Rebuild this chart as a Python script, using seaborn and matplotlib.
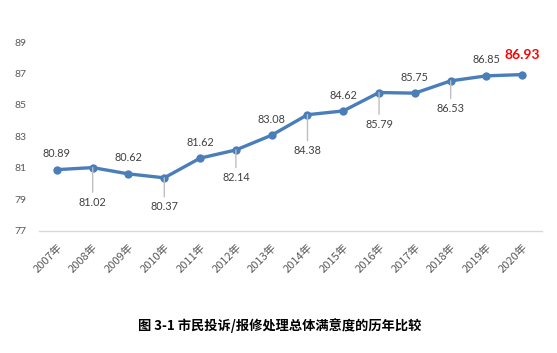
import pandas as pd
import numpy as np
import matplotlib.pyplot as plt
import seaborn as sns

# 数据
years = ['2007年', '2008年', '2009年', '2010年', '2011年', '2012年', '2013年',
         '2014年', '2015年', '2016年', '2017年', '2018年', '2019年', '2020年']
scores = [80.89, 81.02, 80.62, 80.37, 81.62, 82.14, 83.08,
          84.38, 84.62, 85.79, 85.75, 86.53, 86.85, 86.93]
# 标签位置: 'up' 在上方, 'down' 在下方(带引线)
label_pos = ['up', 'down', 'up', 'down', 'up', 'down', 'up',
             'down', 'up', 'down', 'up', 'down', 'up', 'up']
y_ticks = [77, 79, 81, 83, 85, 87, 89]
title = '图 3-1 市民投诉/报修处理总体满意度的历年比较'

df = pd.DataFrame({'year': years, 'score': scores})

sns.set_style('white')
plt.rcParams['font.family'] = ['Lato', 'Noto Sans CJK SC', 'DejaVu Sans']

fig = plt.figure(figsize=(5.57, 3.53), dpi=100)
ax = fig.add_axes([0.07, 0.346, 0.903, 0.535])

sns.lineplot(data=df, x='year', y='score', ax=ax, color='#4a7ebb', linewidth=2.4,
             marker='o', markersize=6, markeredgewidth=0, sort=False)

ax.set_ylim(77, 89)
ax.set_xlim(-0.5, len(years) - 0.45)
ax.set_yticks(y_ticks)
ax.set_xlabel('')
ax.set_ylabel('')
for s in ['top', 'right', 'left']:
    ax.spines[s].set_visible(False)
ax.spines['bottom'].set_color('#d9d9d9')
ax.spines['bottom'].set_linewidth(1)
ax.tick_params(axis='y', length=0, pad=9, labelsize=7.5, labelcolor='#595959')
ax.tick_params(axis='x', length=0, pad=8, labelsize=8, labelcolor='#595959')
for lab in ax.get_xticklabels():
    lab.set_rotation(45)
    lab.set_ha('right')
    lab.set_va('top')
    lab.set_rotation_mode('anchor')
    lab.set_fontfamily(['Noto Sans CJK SC', 'DejaVu Sans'])

down_off = [0, 21, 0, 17, 0, 16, 0, 22, 0, 19, 0, 16, 0, 0]
for i, (v, p) in enumerate(zip(scores, label_pos)):
    if i == len(scores) - 1:
        ax.annotate(f'{v:.2f}', (i, v), xytext=(0, 10), textcoords='offset points',
                    ha='center', va='bottom', fontsize=10, fontweight='bold', color='#ff0000')
    elif p == 'up':
        ax.annotate(f'{v:.2f}', (i, v), xytext=(0, 7.5), textcoords='offset points',
                    ha='center', va='bottom', fontsize=7.8, color='#404040')
    else:
        ax.annotate(f'{v:.2f}', (i, v), xytext=(0, -down_off[i]), textcoords='offset points',
                    ha='center', va='top', fontsize=7.8, color='#404040',
                    arrowprops=dict(arrowstyle='-', color='#bfbfbf', lw=1,
                                    shrinkA=1, shrinkB=0))

fig.text(0.503, 0.078, title, ha='center', va='center', fontsize=9.5, fontweight='heavy',
         family=['Noto Sans CJK SC', 'DejaVu Sans'], color='black')

fig.savefig('out.png', dpi=100)
